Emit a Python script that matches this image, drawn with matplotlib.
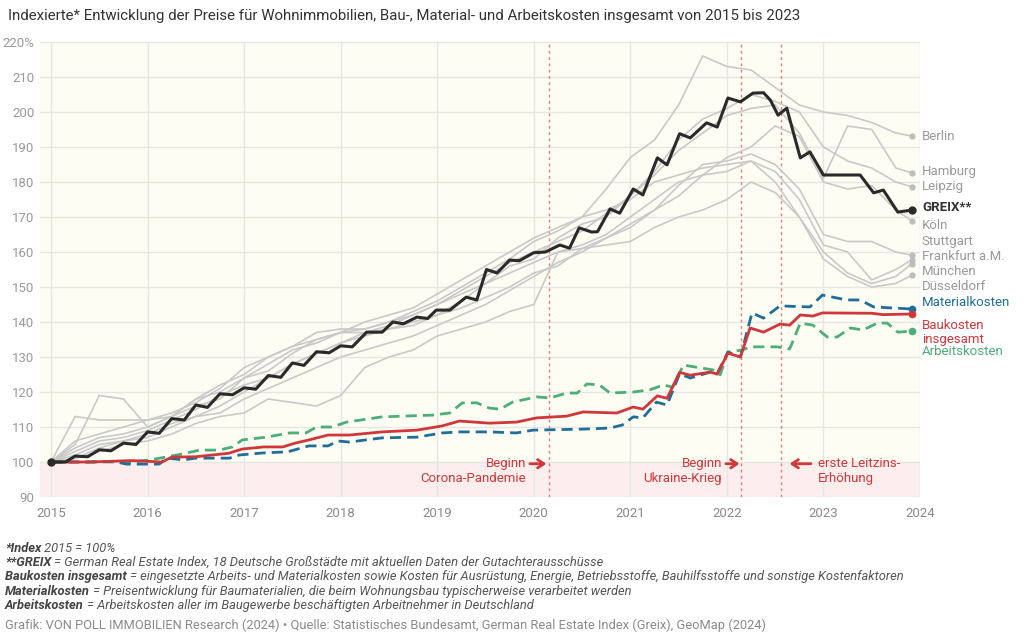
import matplotlib
matplotlib.use("Agg")
import matplotlib.pyplot as plt

plt.rcParams['font.family'] = ['Roboto', 'DejaVu Sans']

# ---- data -------------------------------------------------------------
# GREIX (decimal years)
greix_x = [2015.00, 2015.15, 2015.25, 2015.38, 2015.50, 2015.62, 2015.75, 2015.88,
           2016.00, 2016.12, 2016.25, 2016.38, 2016.50, 2016.62, 2016.75, 2016.88,
           2017.00, 2017.12, 2017.25, 2017.38, 2017.50, 2017.62, 2017.75, 2017.88,
           2018.00, 2018.12, 2018.27, 2018.43, 2018.54, 2018.65, 2018.79, 2018.90,
           2018.99, 2019.13, 2019.30, 2019.41, 2019.51, 2019.62, 2019.75, 2019.85,
           2020.00, 2020.12, 2020.27, 2020.37, 2020.47, 2020.60, 2020.66, 2020.79,
           2020.89, 2021.03, 2021.13, 2021.28, 2021.38, 2021.51, 2021.62, 2021.79,
           2021.90, 2022.01, 2022.14, 2022.27, 2022.38, 2022.45, 2022.53, 2022.62,
           2022.76, 2022.86, 2023.00, 2023.38, 2023.52, 2023.62, 2023.77, 2023.92]
greix_y = [100, 100, 101.7, 101.5, 103.5, 103.2, 105.4, 105.0,
           108.6, 108.2, 112.4, 112.0, 116.3, 115.6, 119.5, 119.2,
           121.2, 120.8, 124.7, 124.2, 128.3, 127.6, 131.5, 131.2,
           133.2, 132.9, 137.1, 137.1, 140.0, 139.5, 141.4, 141.0,
           143.4, 143.4, 147.1, 146.3, 155.0, 154.0, 157.7, 157.5,
           159.8, 160.0, 162.0, 161.1, 166.9, 165.7, 165.8, 172.3,
           171.1, 178.0, 176.3, 186.9, 184.9, 193.8, 192.6, 196.9,
           195.7, 204.0, 202.9, 205.4, 205.5, 203.4, 199.1, 201.1,
           186.9, 188.6, 182.0, 182.0, 176.9, 177.7, 171.4, 172.0]

# cities, quarterly (last point = end of 2023)
city_x = [2015 + m / 12 for m in list(range(0, 106, 3)) + [107]]
cities = ["Berlin", "Hamburg", "Leipzig", "Köln", "Stuttgart",
          "Frankfurt a.M.", "München", "Düsseldorf"]
city_vals = {
    "Berlin": [100, 104, 107, 108, 110, 113, 118, 120, 124, 128, 132, 134,
               137, 140, 142, 144, 148, 152, 156, 160, 164, 167, 170, 178,
               187, 192, 202, 216, 213, 212, 207, 202, 200, 199, 197, 194, 193.1],
    "Hamburg": [100, 103, 106, 107, 109, 112, 115, 119, 122, 124, 128, 131,
                134, 137, 139, 142, 145, 149, 153, 157, 160, 163, 166, 171,
                176, 182, 189, 194, 199, 201, 202, 194, 181, 196, 195, 184, 182.6],
    "Leipzig": [100, 113, 112, 112, 112, 113, 116, 118, 124, 126, 131, 135,
                137, 137, 138, 140, 142, 146, 151, 156, 158, 164, 168, 170,
                176, 183, 192, 198, 201, 205, 203, 200, 190, 186, 184, 180, 178.6],
    "Köln": [100, 101, 104, 106, 108, 111, 113, 114, 118, 121, 124, 127,
             130, 132, 134, 136, 139, 142, 145, 149, 153, 157, 160, 164,
             167, 172, 176, 182, 187, 190, 196, 193, 180, 178, 179, 172, 168.9],
    "Stuttgart": [100, 102, 105, 106, 107, 110, 113, 116, 120, 124, 128, 131,
                  134, 136, 138, 139, 142, 144, 147, 150, 154, 156, 161, 164,
                  168, 172, 179, 185, 186, 188, 185, 178, 165, 163, 163, 160, 159.1],
    "Frankfurt a.M.": [100, 105, 119, 118, 110, 113, 118, 122, 125, 130, 133, 135,
                       137, 138, 140, 142, 145, 148, 151, 154, 157, 160, 162, 165,
                       170, 175, 180, 182, 183, 186, 183, 175, 162, 160, 152, 155, 157.8],
    "München": [100, 106, 108, 110, 112, 114, 117, 121, 127, 130, 133, 137,
                138, 138, 140, 143, 146, 150, 154, 158, 163, 166, 170, 172,
                175, 180, 182, 184, 185, 186, 180, 170, 160, 154, 151, 153, 156.7],
    "Düsseldorf": [100, 101, 103, 105, 106, 108, 111, 113, 114, 118, 117, 116,
                   119, 127, 130, 132, 136, 138, 140, 143, 145, 160, 161, 162,
                   163, 167, 170, 172, 175, 180, 177, 170, 158, 153, 150, 151, 153.4],
}

bau_x = [2015.00, 2015.40, 2015.84, 2016.15, 2016.25, 2016.50, 2016.84, 2016.98,
         2017.20, 2017.40, 2017.53, 2017.67, 2017.87, 2018.09, 2018.43, 2018.79,
         2019.05, 2019.23, 2019.54, 2019.82, 2020.03, 2020.34, 2020.51, 2020.86,
         2021.03, 2021.13, 2021.28, 2021.38, 2021.51, 2021.62, 2021.83, 2021.90,
         2022.01, 2022.14, 2022.24, 2022.38, 2022.55, 2022.65, 2022.76, 2022.89,
         2022.99, 2023.50, 2023.62, 2023.92]
bau_y = [100, 100, 100.4, 100.0, 101.4, 101.5, 102.5, 103.7,
         104.3, 104.3, 105.4, 106.3, 107.7, 107.7, 108.6, 109.1,
         110.3, 111.7, 111.1, 111.4, 112.6, 113.1, 114.3, 114.0,
         115.7, 115.1, 118.9, 118.2, 125.6, 124.8, 125.7, 125.1,
         131.1, 130.0, 138.3, 137.1, 139.4, 139.1, 142.0, 141.7,
         142.6, 142.5, 142.1, 142.3]

mat_x = [2015.00, 2015.40, 2015.65, 2015.78, 2016.12, 2016.20, 2016.37, 2016.50,
         2016.85, 2016.95, 2017.20, 2017.45, 2017.67, 2017.87, 2017.97, 2018.09,
         2018.43, 2018.79, 2019.05, 2019.23, 2019.54, 2019.82, 2019.99, 2020.51,
         2020.79, 2020.92, 2021.03, 2021.13, 2021.27, 2021.38, 2021.51, 2021.62,
         2021.83, 2021.90, 2022.01, 2022.14, 2022.26, 2022.38, 2022.55, 2022.86,
         2022.99, 2023.24, 2023.38, 2023.52, 2023.92]
mat_y = [100, 100, 100.2, 99.4, 99.4, 101.1, 100.6, 101.1,
         101.1, 102.0, 102.6, 102.9, 104.6, 104.6, 106.0, 105.7,
         106.9, 107.1, 108.3, 108.6, 108.6, 108.3, 109.1, 109.4,
         109.7, 110.6, 112.9, 112.6, 117.1, 116.3, 125.2, 124.0,
         125.7, 125.3, 131.4, 130.0, 142.6, 141.1, 144.6, 144.3,
         147.7, 146.3, 146.3, 144.3, 143.7]

arb_x = [2015.00, 2015.84, 2016.02, 2016.19, 2016.36, 2016.54, 2016.74, 2016.88,
         2016.98, 2017.23, 2017.47, 2017.64, 2017.75, 2017.91, 2018.06, 2018.43,
         2018.95, 2019.13, 2019.26, 2019.41, 2019.54, 2019.65, 2019.78, 2020.03,
         2020.17, 2020.34, 2020.45, 2020.55, 2020.68, 2020.79, 2021.03, 2021.20,
         2021.34, 2021.44, 2021.55, 2021.68, 2021.86, 2021.93, 2022.01, 2022.16,
         2022.24, 2022.52, 2022.65, 2022.76, 2022.89, 2023.04, 2023.14, 2023.28,
         2023.41, 2023.56, 2023.66, 2023.77, 2023.92]
arb_y = [100, 100, 100.6, 101.4, 102.3, 103.4, 103.4, 104.3,
         106.3, 107.1, 108.3, 108.3, 110.0, 110.0, 111.4, 112.9,
         113.4, 114.0, 116.9, 116.9, 115.4, 115.1, 117.1, 118.6,
         118.3, 119.7, 119.7, 122.3, 122.0, 119.7, 120.0, 120.6,
         122.0, 121.4, 127.7, 127.1, 126.3, 124.9, 131.4, 132.0,
         132.9, 132.9, 132.3, 139.7, 139.1, 135.7, 135.7, 138.3,
         137.7, 139.7, 139.7, 137.1, 137.4]

events = [2020.16, 2022.15, 2022.56]
years = list(range(2015, 2025))
yticks = list(range(90, 221, 10))

# ---- style ------------------------------------------------------------
RED = '#d0373a'
BLUE = '#1f6e99'
GREEN = '#4cae78'
GRAY = '#c9c9c9'
BLACK = '#2a2a2a'
LABEL_GRAY = '#9a9a9a'

fig = plt.figure(figsize=(10.24, 6.33), dpi=100)
ax = fig.add_axes([40 / 1024, 136 / 633, 880 / 1024, 455 / 633])
ax.set_xlim(2014.886, 2024.0)
ax.set_ylim(90, 220)
ax.set_facecolor('#fdfdf4')
ax.axhspan(90, 100, color='#fbeeec', zorder=0)

for s in ax.spines.values():
    s.set_visible(False)
ax.set_xticks(years)
ax.set_yticks(yticks)
ax.set_yticklabels([str(v) if v < 220 else '220%' for v in yticks])
ax.tick_params(length=0, colors=LABEL_GRAY, labelsize=9.5)
ax.tick_params(axis='x', pad=7, labelcolor='#8a8a8a')
ax.tick_params(axis='y', pad=4)
ax.grid(True, color='#e6e6e2', lw=1, zorder=0.5)
ax.set_axisbelow(True)

for ev in events:
    ax.axvline(ev, color='#dc5a5c', lw=1.0, ls=(0, (2, 2.5)), alpha=0.8, zorder=1)

# cities
for c in cities:
    ax.plot(city_x, city_vals[c], color=GRAY, lw=1.2, zorder=2, solid_joinstyle='round')
    ax.plot(city_x[-1], city_vals[c][-1], 'o', color='#bdbdbd', ms=3.5, zorder=3)

ax.plot(greix_x, greix_y, color=BLACK, lw=2.2, zorder=5, solid_joinstyle='round')
ax.plot([greix_x[0], greix_x[-1]], [greix_y[0], greix_y[-1]], 'o', color=BLACK, ms=5, zorder=6)

ax.plot(arb_x, arb_y, color=GREEN, lw=2, ls=(0, (4, 2.2)), zorder=4)
ax.plot(mat_x, mat_y, color=BLUE, lw=2, ls=(0, (4, 2.2)), zorder=4)
ax.plot(bau_x, bau_y, color=RED, lw=2, zorder=4.5)
for xs, ys, col in [(arb_x, arb_y, GREEN), (mat_x, mat_y, BLUE), (bau_x, bau_y, RED)]:
    ax.plot(xs[-1], ys[-1], 'o', color=col, ms=4.5, zorder=6)

# right-hand labels
right_labels = [
    ("Berlin", 193.1, LABEL_GRAY, 'normal'),
    ("Hamburg", 183.1, LABEL_GRAY, 'normal'),
    ("Leipzig", 178.6, LABEL_GRAY, 'normal'),
    ("GREIX**", 172.6, '#333333', 'bold'),
    ("Köln", 167.7, LABEL_GRAY, 'normal'),
    ("Stuttgart", 162.9, LABEL_GRAY, 'normal'),
    ("Frankfurt a.M.", 158.6, LABEL_GRAY, 'normal'),
    ("München", 154.3, LABEL_GRAY, 'normal'),
    ("Düsseldorf", 150.0, LABEL_GRAY, 'normal'),
    ("Materialkosten", 145.7, BLUE, 'normal'),
    ("Baukosten", 139.1, RED, 'normal'),
    ("insgesamt", 134.9, RED, 'normal'),
    ("Arbeitskosten", 131.7, GREEN, 'normal'),
]
for txt, yv, col, wt in right_labels:
    ax.text(2024.02, yv, txt, color=col, fontsize=9.5, fontweight=wt,
            va='center', ha='left', clip_on=False)

# event annotations
akw = dict(arrowstyle='->, head_length=0.45, head_width=0.3', color=RED, lw=2,
           shrinkA=0, shrinkB=0)
ax.text(2019.92, 99.5, "Beginn", color=RED, fontsize=9.5, ha='right', va='center')
ax.text(2019.92, 95.2, "Corona-Pandemie", color=RED, fontsize=9.5, ha='right', va='center')
ax.annotate("", xy=(2020.13, 99.5), xytext=(2019.96, 99.5), arrowprops=akw)

ax.text(2021.95, 99.5, "Beginn", color=RED, fontsize=9.5, ha='right', va='center')
ax.text(2021.95, 95.2, "Ukraine-Krieg", color=RED, fontsize=9.5, ha='right', va='center')
ax.annotate("", xy=(2022.13, 99.5), xytext=(2021.99, 99.5), arrowprops=akw)

ax.text(2022.94, 99.5, "erste Leitzins-", color=RED, fontsize=9.5, ha='left', va='center')
ax.text(2022.94, 95.2, "Erhöhung", color=RED, fontsize=9.5, ha='left', va='center')
ax.annotate("", xy=(2022.65, 99.5), xytext=(2022.87, 99.5), arrowprops=akw)

# title
fig.text(8 / 1024, 1 - 16 / 633, "Indexierte* Entwicklung der Preise für Wohnimmobilien, Bau-, "
         "Material- und Arbeitskosten insgesamt von 2015 bis 2023",
         fontsize=10.8, color='#333333', va='center', ha='left')

# footnotes
footnotes = [
    ("*Index", " 2015 = 100%"),
    ("**GREIX", " = German Real Estate Index, 18 Deutsche Großstädte mit aktuellen Daten der Gutachterausschüsse"),
    ("Baukosten insgesamt", " = eingesetzte Arbeits- und Materialkosten sowie Kosten für Ausrüstung, "
                            "Energie, Betriebsstoffe, Bauhilfsstoffe und sonstige Kostenfaktoren"),
    ("Materialkosten", " = Preisentwicklung für Baumaterialien, die beim Wohnungsbau typischerweise verarbeitet werden"),
    ("Arbeitskosten", " = Arbeitskosten aller im Baugewerbe beschäftigten Arbeitnehmer in Deutschland"),
]
renderer = fig.canvas.get_renderer()
for i, (bold, rest) in enumerate(footnotes):
    ypx = 548 + i * 14.4
    t = fig.text(5 / 1024, 1 - ypx / 633, bold, fontsize=9.3, fontweight='bold', style='italic',
                 color='#444444', va='center', ha='left')
    bb = t.get_window_extent(renderer)
    fig.text(bb.x1 / 1024, 1 - ypx / 633, rest, fontsize=9.3, style='italic',
             color='#555555', va='center', ha='left')

fig.text(5 / 1024, 1 - 625 / 633, "Grafik: VON POLL IMMOBILIEN Research (2024) • Quelle: Statistisches "
         "Bundesamt, German Real Estate Index (Greix), GeoMap (2024)",
         fontsize=9.3, color='#8a8a8a', va='center', ha='left')

fig.savefig("out.png", dpi=100, facecolor='white')
